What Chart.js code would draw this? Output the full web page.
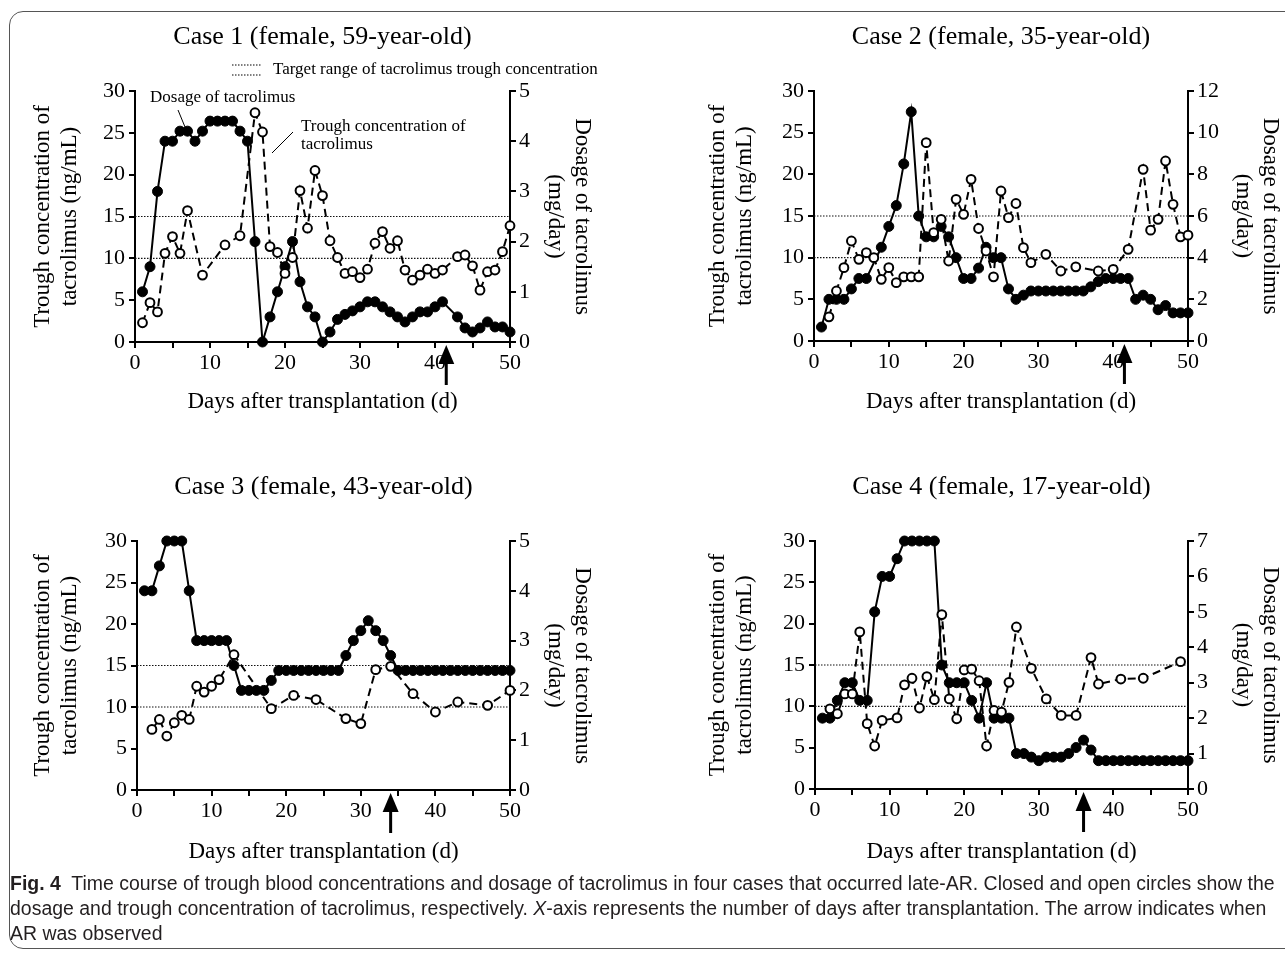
<!DOCTYPE html>
<html>
<head>
<meta charset="utf-8">
<script src="https://cdn.jsdelivr.net/npm/chart.js@4.4.0/dist/chart.umd.min.js"></script>
<style>
  html, body { margin: 0; padding: 0; background: #fff; width: 1285px; height: 956px; overflow: hidden; }
  .frame { position: absolute; left: 9px; top: 11px; width: 1300px; height: 938px; border: 1px solid #555; border-radius: 14px; box-sizing: border-box; }
  canvas { position: absolute; }
  .caption { position: absolute; left: 10px; top: 871px; font-family: "Liberation Sans", Arial, sans-serif; font-size: 20px; line-height: 25px; color: #231f20; }
  .caption div { white-space: nowrap; transform-origin: 0 50%; }
</style>
</head>
<body>
<div class="frame"></div>
<canvas id="case1" width="600" height="410" style="left:10px; top:15px;"></canvas>
<canvas id="case2" width="595" height="410" style="left:690px; top:15px;"></canvas>
<canvas id="case3" width="600" height="410" style="left:10px; top:465px;"></canvas>
<canvas id="case4" width="595" height="410" style="left:690px; top:465px;"></canvas>
<div class="caption" id="caption">
  <div><b>Fig. 4</b>&nbsp; Time course of trough blood concentrations and dosage of tacrolimus in four cases that occurred late-AR. Closed and open circles show the</div>
  <div>dosage and trough concentration of tacrolimus, respectively. <i>X</i>-axis represents the number of days after transplantation. The arrow indicates when</div>
  <div>AR was observed</div>
</div>
<script>
// days after transplantation 0..50, trough on the left axis (ng/mL), dosage on the right axis (mg/day)
const xMax = 50;
const troughMax = 30;
const targetRange = [10, 15];
const doseMax = [5, 12, 5, 7];
const arrowDays = [41.5, 41.5, 34, 36];
const titles = ['Case 1 (female, 59-year-old)', 'Case 2 (female, 35-year-old)', 'Case 3 (female, 43-year-old)', 'Case 4 (female, 17-year-old)'];

const c1DoseDays = [1,2,3,4,5,6,7,8,9,10,11,12,13,14,15,16,17,18,19,20,21,22,23,24,25,26,27,28,29,30,31,32,33,34,35,36,37,38,39,40,41,43,44,45,46,47,48,49,50];
const c1Dose = [1.0,1.5,3.0,4.0,4.0,4.2,4.2,4.0,4.2,4.4,4.4,4.4,4.4,4.2,4.0,2.0,0,0.5,1.0,1.5,2.0,1.2,0.7,0.5,0,0.2,0.45,0.55,0.62,0.7,0.8,0.8,0.7,0.6,0.5,0.4,0.5,0.6,0.6,0.7,0.8,0.5,0.28,0.2,0.28,0.4,0.3,0.3,0.2];
const c1TroughDays = [1,2,3,4,5,6,7,9,12,14,16,17,18,19,20,21,22,23,24,25,26,27,28,29,30,31,32,33,34,35,36,37,38,39,40,41,43,44,45,46,47,48,49,50];
const c1Trough = [2.3,4.7,3.6,10.6,12.6,10.6,15.7,8.0,11.6,12.7,27.4,25.1,11.4,10.7,8.2,10.1,18.1,13.6,20.5,17.5,12.1,10.1,8.2,8.4,7.7,8.7,11.8,13.2,11.2,12.1,8.6,7.4,8.0,8.7,8.2,8.6,10.2,10.4,9.1,6.2,8.4,8.6,10.8,13.9];

const c2DoseDays = [1,2,3,4,5,6,7,9,10,11,12,13,14,15,16,17,18,19,20,21,22,23,24,25,26,27,28,29,30,31,32,33,34,35,36,37,38,39,40,41,42,43,44,45,46,47,48,49,50];
const c2Dose = [0.67,2.0,2.0,2.0,2.5,3.0,3.0,4.5,5.5,6.5,8.5,11.0,6.0,5.0,5.0,5.5,5.0,4.0,3.0,3.0,3.5,4.5,4.0,4.0,2.5,2.0,2.2,2.4,2.4,2.4,2.4,2.4,2.4,2.4,2.4,2.6,2.85,3.0,3.0,3.0,3.0,2.0,2.2,2.0,1.5,1.7,1.35,1.35,1.35];
const c2TroughDays = [2,3,4,5,6,7,8,9,10,11,12,13,14,15,16,17,18,19,20,21,22,23,24,25,26,27,28,29,31,33,35,38,40,42,44,45,46,47,48,49,50];
const c2Trough = [2.9,6.0,8.8,12.0,9.8,10.6,10.0,7.4,8.8,7.0,7.7,7.7,7.7,23.8,13.0,14.6,9.6,17.0,15.2,19.4,13.5,10.8,7.7,18.0,14.8,16.5,11.2,9.4,10.4,8.4,8.9,8.4,8.6,11.0,20.6,13.3,14.6,21.6,16.4,12.5,12.7];

const c3DoseDays = [1,2,3,4,5,6,7,8,9,10,11,12,13,14,15,16,17,18,19,20,21,22,23,24,25,26,27,28,29,30,31,32,33,34,35,36,37,38,39,40,41,42,43,44,45,46,47,48,49,50];
const c3Dose = [4,4,4.5,5,5,5,4,3,3,3,3,3,2.5,2,2,2,2,2.2,2.4,2.4,2.4,2.4,2.4,2.4,2.4,2.4,2.4,2.7,3.0,3.2,3.4,3.2,3.0,2.7,2.4,2.4,2.4,2.4,2.4,2.4,2.4,2.4,2.4,2.4,2.4,2.4,2.4,2.4,2.4,2.4];
const c3TroughDays = [2,3,4,5,6,7,8,9,10,11,13,18,21,24,28,30,32,34,37,40,43,47,50];
const c3Trough = [7.3,8.5,6.5,8.1,9.0,8.5,12.5,11.8,12.5,13.3,16.3,9.8,11.4,10.9,8.6,8.0,14.5,14.9,11.6,9.4,10.6,10.2,12.0];

const c4DoseDays = [1,2,3,4,5,6,7,8,9,10,11,12,13,14,15,16,17,18,19,20,21,22,23,24,25,26,27,28,29,30,31,32,33,34,35,36,37,38,39,40,41,42,43,44,45,46,47,48,49,50];
const c4Dose = [2,2,2.5,3,3,2.5,2.5,5,6,6,6.5,7,7,7,7,7,3.5,3,3,3,2.5,2,3,2,2,2,1,1,0.9,0.8,0.9,0.9,0.9,1.0,1.17,1.38,1.1,0.8,0.8,0.8,0.8,0.8,0.8,0.8,0.8,0.8,0.8,0.8,0.8,0.8];
const c4TroughDays = [2,3,4,5,6,7,8,9,11,12,13,14,15,16,17,18,19,20,21,22,23,24,25,26,27,29,31,33,35,37,38,41,44,49];
const c4Trough = [9.7,9.1,11.5,11.5,19.0,7.9,5.2,8.3,8.6,12.6,13.4,9.8,13.6,10.8,21.1,10.9,8.5,14.4,14.5,13.1,5.2,9.5,9.3,12.9,19.6,14.6,10.9,8.9,8.9,15.9,12.7,13.3,13.4,15.4];

const SERIF = '"Liberation Serif", "Times New Roman", serif';
Chart.defaults.font.family = SERIF;
Chart.defaults.color = '#000';

function zip(xs, ys) {
  return xs.map((x, i) => ({ x: x, y: ys[i] }));
}

// title, AR arrow, and the legend/labels that only case 1 has
const decor = {
  id: 'decor',
  afterDraw(chart, args, o) {
    const { ctx, chartArea: a, scales } = chart;
    ctx.save();
    ctx.fillStyle = '#000';
    ctx.strokeStyle = '#000';
    ctx.font = '26px ' + SERIF;
    ctx.textAlign = 'center';
    ctx.textBaseline = 'middle';
    ctx.fillText(o.title, (a.left + a.right) / 2, a.top - 54);

    const ax = scales.x.getPixelForValue(o.arrowDay);
    const tip = a.bottom + 3;
    ctx.beginPath();
    ctx.moveTo(ax, tip);
    ctx.lineTo(ax - 8, tip + 19);
    ctx.lineTo(ax + 8, tip + 19);
    ctx.closePath();
    ctx.fill();
    ctx.fillRect(ax - 1.5, tip + 18, 3, 22);

    if (o.notes) {
      ctx.lineWidth = 1.2;
      ctx.setLineDash([1.5, 1.5]);
      [a.top - 26, a.top - 16].forEach(y => {
        ctx.beginPath();
        ctx.moveTo(a.left + 97, y);
        ctx.lineTo(a.left + 127, y);
        ctx.stroke();
      });
      ctx.setLineDash([]);
      ctx.font = '17px ' + SERIF;
      ctx.textAlign = 'left';
      ctx.fillText('Target range of tacrolimus trough concentration', a.left + 138, a.top - 21);
      ctx.fillText('Dosage of tacrolimus', a.left + 15, a.top + 7);
      ctx.fillText('Trough concentration of', a.left + 166, a.top + 36);
      ctx.fillText('tacrolimus', a.left + 166, a.top + 54);
      ctx.lineWidth = 1;
      ctx.beginPath();
      ctx.moveTo(a.left + 43, a.top + 19);
      ctx.lineTo(a.left + 50, a.top + 36);
      ctx.moveTo(a.left + 158, a.top + 41);
      ctx.lineTo(a.left + 137, a.top + 62);
      ctx.stroke();
    }
    ctx.restore();
  }
};

function axisLook() {
  return {
    border: { display: true, color: '#000', width: 2 },
    grid: { drawOnChartArea: false, drawTicks: true, tickLength: 6, color: '#000', lineWidth: 2 }
  };
}

function buildChart(id, k, p) {
  const datasets = [
    {
      label: 'Trough concentration of tacrolimus',
      data: zip(p.troughDays, p.trough),
      yAxisID: 'y',
      borderColor: '#000', borderWidth: 2, borderDash: [8, 5],
      pointRadius: 4.4, pointBackgroundColor: '#fff', pointBorderColor: '#000', pointBorderWidth: 2,
      clip: false, order: 1
    },
    {
      label: 'Dosage of tacrolimus',
      data: zip(p.doseDays, p.dose),
      yAxisID: 'y2',
      borderColor: '#000', borderWidth: 2,
      pointRadius: 5, pointBackgroundColor: '#000', pointBorderColor: '#000', pointBorderWidth: 1,
      clip: false, order: 2
    }
  ];
  targetRange.forEach(v => {
    datasets.push({
      label: 'Target range',
      data: [{ x: 0, y: v }, { x: xMax, y: v }],
      yAxisID: 'y',
      borderColor: '#111', borderWidth: 1.2, borderDash: [1.5, 1.5],
      pointRadius: 0, order: 3
    });
  });

  return new Chart(document.getElementById(id), {
    type: 'line',
    data: { datasets: datasets },
    options: {
      responsive: false,
      animation: false,
      layout: { padding: { top: 76, left: 0, right: 0, bottom: 0 } },
      plugins: {
        legend: { display: false },
        tooltip: { enabled: false },
        decor: { title: titles[k], arrowDay: arrowDays[k], notes: k === 0 }
      },
      scales: {
        x: Object.assign(axisLook(), {
          type: 'linear', min: 0, max: xMax,
          ticks: { stepSize: 5, autoSkip: false, maxRotation: 0, padding: 2, font: { size: 22 },
                   callback: v => (v % 10 === 0 ? v : '') },
          title: { display: true, text: 'Days after transplantation (d)', font: { size: 23 }, padding: { top: 0, bottom: 9 } },
          afterFit: s => { s.height = p.xH; }
        }),
        y: Object.assign(axisLook(), {
          position: 'left', min: 0, max: troughMax,
          ticks: { stepSize: 5, padding: 4, font: { size: 22 } },
          title: { display: true, text: ['Trough concentration of', 'tacrolimus (ng/mL)'],
                   font: { size: 23, lineHeight: 1.15 }, padding: { top: p.leftPad, bottom: 0 } },
          afterFit: s => { s.width = p.leftW; }
        }),
        y2: Object.assign(axisLook(), {
          position: 'right', min: 0, max: doseMax[k],
          ticks: { stepSize: doseMax[k] > 10 ? 2 : 1, padding: 3, font: { size: 22 } },
          title: { display: true, text: ['Dosage of tacrolimus', '(mg/day)'],
                   font: { size: 23, lineHeight: 1.15 }, padding: { top: p.rightPad, bottom: 0 } },
          afterFit: s => { s.width = p.rightW; }
        })
      }
    },
    plugins: [decor]
  });
}

buildChart('case1', 0, { doseDays: c1DoseDays, dose: c1Dose, troughDays: c1TroughDays, trough: c1Trough,
  leftW: 125, rightW: 100, xH: 83, leftPad: 20, rightPad: 15 });
buildChart('case2', 1, { doseDays: c2DoseDays, dose: c2Dose, troughDays: c2TroughDays, trough: c2Trough,
  leftW: 124, rightW: 97, xH: 84, leftPad: 15, rightPad: 2 });
buildChart('case3', 2, { doseDays: c3DoseDays, dose: c3Dose, troughDays: c3TroughDays, trough: c3Trough,
  leftW: 127, rightW: 100, xH: 85, leftPad: 20, rightPad: 15 });
buildChart('case4', 3, { doseDays: c4DoseDays, dose: c4Dose, troughDays: c4TroughDays, trough: c4Trough,
  leftW: 125, rightW: 97, xH: 86, leftPad: 15, rightPad: 2 });

// squeeze the caption lines to the printed line length
const capLines = document.querySelectorAll('#caption div');
const squeeze = 1265 / capLines[0].scrollWidth;
capLines.forEach(d => { d.style.transform = 'scaleX(' + squeeze + ')'; });
</script>
</body>
</html>
